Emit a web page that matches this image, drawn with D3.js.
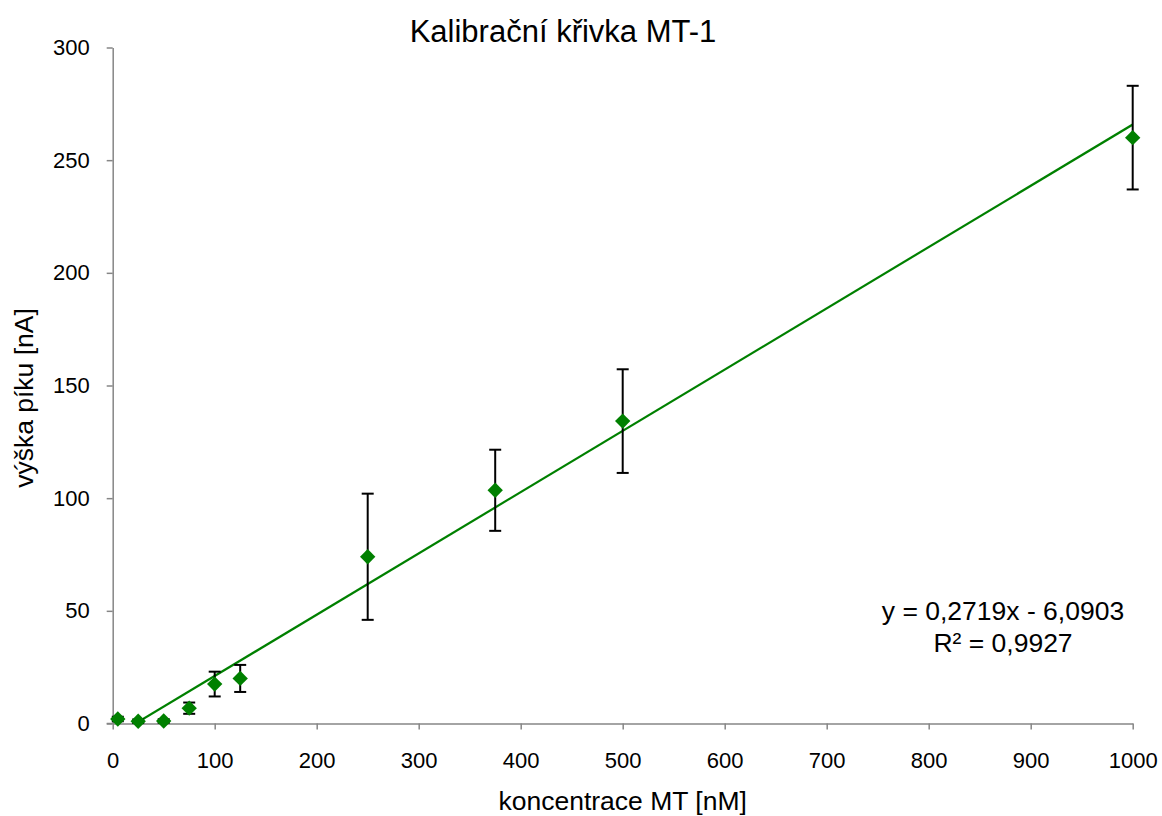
<!DOCTYPE html>
<html>
<head>
<meta charset="utf-8">
<script src="https://cdn.jsdelivr.net/npm/d3@7"></script>
<style>
  body { margin: 0; background: #fff; }
  svg { display: block; font-family: "Liberation Sans", Arial, sans-serif; }
</style>
</head>
<body>
<svg id="chart" width="1162" height="816"></svg>
<script>
// concentrations [nM], peak heights [nA], error (+/-)
const concentrations = [5, 25, 50, 75, 100, 125, 250, 375, 500, 1000]
const peakHeights = [2.0, 1.0, 1.1, 6.8, 17.5, 20.0, 74.0, 103.5, 134.2, 260.0]
const errors = [1.0, 0.8, 0.8, 2.5, 5.5, 6.0, 28.0, 18.0, 23.0, 23.0]
const xTicks = [0, 100, 200, 300, 400, 500, 600, 700, 800, 900, 1000]
const yTicks = [0, 50, 100, 150, 200, 250, 300]
const slope = 0.2719
const intercept = -6.0903
const equationLines = ['y = 0,2719x - 6,0903', 'R² = 0,9927']

function App() {
  const svg = d3.select('#chart')
  const left = 112.7, right = 1132.7, top = 47.5, bottom = 723.5
  const axisColor = '#868686'
  const green = '#008000'

  const x = d3.scaleLinear().domain([0, 1000]).range([left, right])
  const y = d3.scaleLinear().domain([0, 300]).range([bottom, top])

  svg.append('defs').append('clipPath').attr('id', 'plot')
    .append('rect')
    .attr('x', left).attr('y', top)
    .attr('width', right - left).attr('height', bottom - top)

  // axes
  const xAxis = svg.append('g')
    .attr('transform', `translate(0,${bottom})`)
    .call(d3.axisBottom(x).tickValues(xTicks).tickFormat(d3.format('d'))
      .tickSize(6).tickSizeOuter(0).tickPadding(23))
  const yAxis = svg.append('g')
    .attr('transform', `translate(${left},0)`)
    .call(d3.axisLeft(y).tickValues(yTicks).tickFormat(d3.format('d'))
      .tickSize(6).tickSizeOuter(0).tickPadding(17))

  ;[xAxis, yAxis].forEach(g => {
    g.select('.domain').attr('stroke', axisColor).attr('stroke-width', 1.5)
    g.selectAll('.tick line').attr('stroke', axisColor).attr('stroke-width', 1.5)
    g.selectAll('.tick text')
      .attr('fill', '#000')
      .style('font-size', '22px')
      .style('font-family', '"Liberation Sans", Arial, sans-serif')
  })
  // x axis line reaches to the left past y axis by a tick
  svg.append('line')
    .attr('x1', left - 6).attr('x2', left)
    .attr('y1', bottom).attr('y2', bottom)
    .attr('stroke', axisColor).attr('stroke-width', 1.5)

  // trend line
  const xMin = d3.min(concentrations), xMax = d3.max(concentrations)
  svg.append('line')
    .attr('clip-path', 'url(#plot)')
    .attr('x1', x(xMin)).attr('y1', y(slope * xMin + intercept))
    .attr('x2', x(xMax)).attr('y2', y(slope * xMax + intercept))
    .attr('stroke', green).attr('stroke-width', 2.2)

  const data = concentrations.map((c, i) => ({ c, v: peakHeights[i], e: errors[i] }))

  // error bars
  const bars = svg.append('g').selectAll('g').data(data).join('g')
    .attr('stroke', '#000').attr('stroke-width', 2)
  bars.append('line')
    .attr('x1', d => x(d.c)).attr('x2', d => x(d.c))
    .attr('y1', d => y(d.v + d.e)).attr('y2', d => y(d.v - d.e))
  bars.append('line')
    .attr('x1', d => x(d.c) - 6).attr('x2', d => x(d.c) + 6)
    .attr('y1', d => y(d.v + d.e)).attr('y2', d => y(d.v + d.e))
  bars.append('line')
    .attr('x1', d => x(d.c) - 6).attr('x2', d => x(d.c) + 6)
    .attr('y1', d => y(d.v - d.e)).attr('y2', d => y(d.v - d.e))

  // diamonds
  const diamond = d3.symbol().type(d3.symbolSquare).size(118)
  svg.append('g').selectAll('path').data(data).join('path')
    .attr('d', diamond)
    .attr('transform', d => `translate(${x(d.c)},${y(d.v)}) rotate(45)`)
    .attr('fill', green)

  // title
  svg.append('text')
    .attr('x', 563).attr('y', 42)
    .attr('text-anchor', 'middle')
    .style('font-size', '31px')
    .text('Kalibrační křivka MT-1')

  // axis titles
  svg.append('text')
    .attr('x', (left + right) / 2).attr('y', 810)
    .attr('text-anchor', 'middle')
    .style('font-size', '26.5px')
    .text('koncentrace MT [nM]')
  svg.append('text')
    .attr('transform', `translate(33,398) rotate(-90)`)
    .attr('text-anchor', 'middle')
    .style('font-size', '26.5px')
    .text('výška píku [nA]')

  // equation
  svg.append('g').selectAll('text').data(equationLines).join('text')
    .attr('x', 1003)
    .attr('y', (d, i) => 620 + i * 32)
    .attr('text-anchor', 'middle')
    .style('font-size', '26.5px')
    .text(d => d)
}

window.addEventListener('DOMContentLoaded', App)
</script>
</body>
</html>
